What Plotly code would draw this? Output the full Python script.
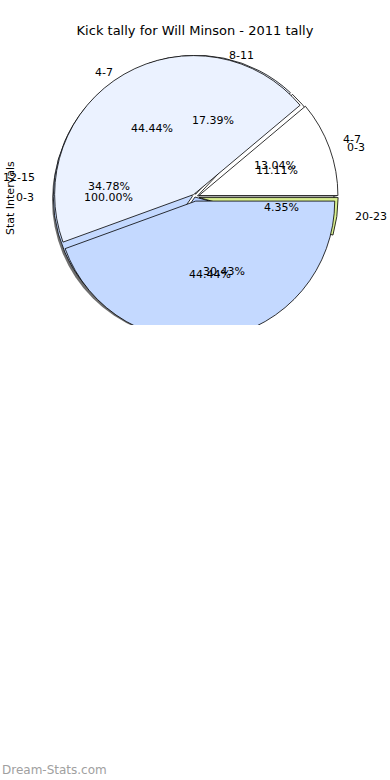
import numpy as np
import plotly.graph_objects as go

# ---------------- data ----------------
title_text = "Kick tally for Will Minson - 2011 tally"
y_label = "Stat Intervals"
watermark = "Dream-Stats.com"

# three pies drawn on top of one another (bottom -> top)
base_labels = ["0-3"]
base_values = [1]

a_labels = ["4-7", "8-11", "12-15", "16-19", "20-23"]
a_values = [3, 4, 8, 7, 1]

b_labels = ["0-3", "4-7", "8-11"]
b_values = [1, 4, 4]

palette = ["#ffffff", "#ebf2ff", "#c4d9ff", "#b3ccff", "#d8ef8f"]

# ---------------- geometry (pixels) ----------------
W, H = 390, 780
CX, CY = 195, 197
R = 139
TRX, TRY = 145, 131
CLIP_Y = 325
FONT = "DejaVu Sans"

pies = [
    (base_labels, base_values, [0.0]),
    (a_labels, a_values, [0.02, 0.02, 0.02, 0.0, 0.03]),
    (b_labels, b_values, [0.03, 0.02, 0.03]),
]


def dom(p):
    s = R * (1 + p)
    return dict(x=[(CX - s) / W, (CX + s) / W], y=[1 - (CY + s) / H, 1 - (CY - s) / H])


fig = go.Figure()
annotations = []
for labels, values, pulls in pies:
    total = float(sum(values))
    # first slice starts at 3 o'clock and slices run counter-clockwise
    rot = 90 - 360 * values[0] / total
    fig.add_trace(go.Pie(
        labels=labels, values=values, sort=False,
        direction="counterclockwise", rotation=rot,
        pull=pulls,
        marker=dict(colors=palette[:len(values)], line=dict(color="black", width=0.8)),
        textinfo="none", hoverinfo="label+percent", showlegend=False,
        domain=dom(max(pulls)),
    ))
    start = 0.0
    for lab, v in zip(labels, values):
        frac = v / total
        mid = np.deg2rad(360 * (start + frac / 2))
        start += frac
        # percentage text
        px = CX + 0.6 * TRX * np.cos(mid)
        py = CY - 0.6 * TRY * np.sin(mid)
        if py < CLIP_Y:
            annotations.append(dict(
                x=px / W, y=1 - py / H, xref="paper", yref="paper",
                text=f"{100 * frac:.2f}%", showarrow=False,
                xanchor="center", yanchor="middle",
                font=dict(family=FONT, size=11, color="black")))
        # label text
        lx = CX + 1.1 * TRX * np.cos(mid)
        ly = CY - 1.1 * TRY * np.sin(mid)
        if ly < CLIP_Y:
            annotations.append(dict(
                x=lx / W, y=1 - ly / H, xref="paper", yref="paper",
                text=lab, showarrow=False,
                xanchor="left" if np.cos(mid) > 1e-9 else "right", yanchor="middle",
                font=dict(family=FONT, size=11, color="black")))

annotations.append(dict(
    x=10 / W, y=1 - 198 / H, xref="paper", yref="paper", text=y_label,
    textangle=-90, showarrow=False, xanchor="center", yanchor="middle",
    font=dict(family=FONT, size=11, color="black")))
annotations.append(dict(
    x=0, y=1 - 770 / H, xref="paper", yref="paper", text=watermark,
    showarrow=False, xanchor="left", yanchor="middle",
    font=dict(family=FONT, size=12, color="#a0a0a0")))

shapes = [
    # drop shadow of the pie
    dict(type="circle", xref="paper", yref="paper", layer="below",
         x0=(CX - R - 4) / W, x1=(CX + R - 4) / W,
         y0=1 - (CY + R + 3) / H, y1=1 - (CY - R + 3) / H,
         fillcolor="#6f6f6f", line=dict(width=0)),
    # axes clipping at the bottom
    dict(type="rect", xref="paper", yref="paper", layer="above",
         x0=0, x1=1, y0=1 - 380 / H, y1=1 - CLIP_Y / H,
         fillcolor="white", line=dict(width=0)),
]

fig.update_layout(
    width=W, height=H,
    margin=dict(l=0, r=0, t=0, b=0),
    paper_bgcolor="white", plot_bgcolor="white",
    title=dict(text=title_text, x=0.5, xanchor="center", y=1 - 30 / H, yanchor="middle",
               font=dict(family=FONT, size=13, color="black")),
    annotations=annotations, shapes=shapes,
)

fig.write_html("out.html", config={"displayModeBar": False},
               post_script="document.body.style.margin='0';")
